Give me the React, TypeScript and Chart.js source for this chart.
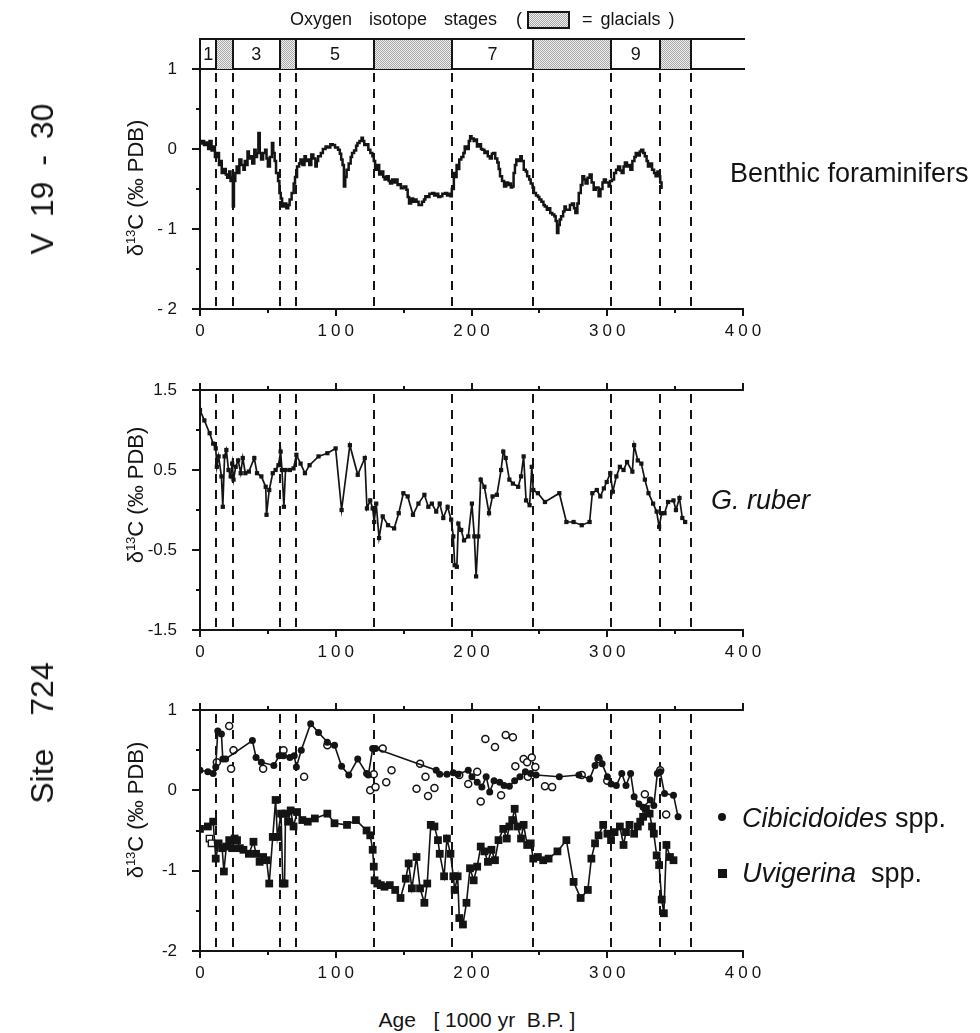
import React, { useEffect, useRef } from "react";
import { Chart, registerables } from "chart.js";

Chart.register(...registerables);

// ---------------- data ----------------
// Oxygen isotope stage boundaries (ka)
const stageBounds = [12, 24, 59, 71, 128, 186, 245, 303, 339, 362];
const stageEdges = [0, 12, 24, 59, 71, 128, 186, 245, 303, 339, 362, 400];
const stageNames = ["1", "", "3", "", "5", "", "7", "", "9", "", ""];
const stageGlacial = [false, true, false, true, false, true, false, true, false, true, false];

const xTickLabels = ["0", "100", "200", "300", "400"];
const yLabelsV1930 = { "1": "1", "0": "0", "-1": "- 1", "-2": "- 2" };
const yLabelsRuber = { "1.5": "1.5", "0.5": "0.5", "-0.5": "-0.5", "-1.5": "-1.5" };
const yLabelsSite = { "1": "1", "0": "0", "-1": "-1", "-2": "-2" };

// V19-30 benthic foraminifers
const benthicAge = [0, 1.5, 3, 4.5, 6, 7, 8.5, 10, 11, 12.5, 14, 15, 16, 17.5, 19, 20, 21.5, 22.5, 23.6, 24.2, 25, 26, 27, 28, 29, 30.5, 32, 33, 34, 35, 36, 37, 38.5, 40, 41, 42, 43, 44, 45, 46.5, 48, 49, 50, 51.5, 53, 54, 55, 56, 57.5, 58.5, 59.5, 60.5, 62, 63.6, 65, 66, 67.5, 69, 70, 71.5, 73, 74, 75.5, 77, 78, 79, 80.5, 82, 83.5, 85, 86, 87, 89, 90.5, 92.5, 94, 96, 97.8, 99.5, 101.7, 103, 104, 105, 106, 107, 108, 109.5, 111, 112, 113.5, 115, 116, 117.5, 119, 120, 121, 122.5, 124, 125.5, 127, 128, 129, 130.5, 132, 133.5, 135, 136, 137.5, 139, 140, 141.5, 143, 144, 145.5, 147, 148, 150, 152, 153, 154, 155.5, 157, 158, 159.5, 161, 162, 163.5, 165, 166, 167.5, 169, 171, 172.5, 174, 175.5, 177, 178.5, 180.5, 182, 183.5, 184.5, 185.5, 187, 188, 189, 190, 191, 192.5, 194, 195, 196.5, 198, 199, 200, 201.6, 203, 204, 205.5, 207, 208, 209.5, 211, 212, 213.5, 215, 216, 217.5, 219, 220, 221, 222.5, 224, 225.5, 227, 228, 229, 230, 231, 232, 233, 234.5, 236, 237, 238.5, 240, 241, 242.5, 243.6, 245, 246, 247.5, 249, 250, 251.5, 253, 254, 255.5, 257, 258, 259.5, 261, 262, 263, 264, 265, 266, 267.5, 268.5, 269.5, 271, 272.5, 274, 275.5, 276.5, 278, 279, 280.5, 281.7, 283, 284, 285.5, 287, 288.5, 290, 291.5, 293.6, 295, 296.5, 297.5, 299, 301, 302, 303.5, 305, 306.5, 308, 309.5, 310.6, 312, 313, 314.5, 316, 317, 318.5, 320, 321, 322.5, 324, 325, 326.5, 327.7, 329, 330, 331.5, 333, 334.5, 335.6, 337, 338, 339, 340];
const benthicD13C = [0.07, 0.1, 0.05, 0.08, 0.0, 0.1, -0.02, 0.03, -0.1, -0.05, -0.2, -0.15, -0.3, -0.25, -0.32, -0.36, -0.28, -0.4, -0.35, -0.72, -0.4, -0.3, -0.22, -0.3, -0.13, -0.2, -0.26, -0.15, -0.2, -0.03, -0.12, -0.09, -0.18, -0.01, -0.1, -0.05, 0.2, -0.05, -0.13, -0.05, -0.01, -0.12, -0.22, -0.1, 0.075, -0.05, -0.15, -0.3, -0.4, -0.55, -0.62, -0.72, -0.68, -0.74, -0.7, -0.63, -0.55, -0.43, -0.35, -0.22, -0.18, -0.13, -0.2, -0.09, -0.15, -0.13, -0.2, -0.07, -0.12, -0.22, -0.15, -0.09, -0.05, 0.0, 0.03, 0.02, 0.06, 0.05, 0.02, -0.01, -0.06, -0.13, -0.2, -0.47, -0.35, -0.26, -0.18, -0.1, -0.05, -0.02, 0.04, 0.075, 0.1, 0.14, 0.1, 0.05, 0.06, -0.01, -0.05, -0.09, -0.15, -0.26, -0.2, -0.32, -0.28, -0.35, -0.38, -0.34, -0.4, -0.43, -0.38, -0.42, -0.38, -0.45, -0.44, -0.49, -0.47, -0.51, -0.6, -0.68, -0.62, -0.66, -0.63, -0.66, -0.7, -0.7, -0.66, -0.63, -0.59, -0.6, -0.56, -0.55, -0.58, -0.56, -0.6, -0.59, -0.56, -0.55, -0.58, -0.56, -0.59, -0.5, -0.3, -0.35, -0.2, -0.25, -0.13, -0.1, -0.05, 0.03, 0.0, 0.1, 0.16, 0.13, 0.1, 0.12, 0.03, 0.06, 0.0, -0.01, -0.05, -0.03, -0.09, -0.12, -0.06, -0.05, -0.12, -0.17, -0.25, -0.34, -0.4, -0.47, -0.42, -0.45, -0.43, -0.48, -0.47, -0.3, -0.2, -0.13, -0.15, -0.09, -0.15, -0.26, -0.28, -0.34, -0.38, -0.43, -0.48, -0.55, -0.58, -0.6, -0.63, -0.66, -0.7, -0.72, -0.76, -0.74, -0.8, -0.82, -0.84, -0.9, -1.05, -0.95, -0.88, -0.84, -0.78, -0.72, -0.76, -0.76, -0.7, -0.68, -0.74, -0.8, -0.68, -0.55, -0.45, -0.34, -0.38, -0.43, -0.36, -0.32, -0.42, -0.51, -0.48, -0.59, -0.5, -0.42, -0.38, -0.42, -0.47, -0.4, -0.38, -0.3, -0.26, -0.22, -0.27, -0.3, -0.22, -0.17, -0.22, -0.2, -0.26, -0.15, -0.1, -0.05, -0.08, -0.03, -0.01, -0.05, -0.09, -0.15, -0.22, -0.18, -0.26, -0.3, -0.34, -0.28, -0.34, -0.42, -0.5];

// Site 724 G. ruber
const ruberAge = [0, 3.2, 7.1, 9.7, 11.6, 12.4, 13.7, 15.8, 16.8, 18.1, 19.4, 21, 22.6, 23.7, 24.7, 26.3, 28.1, 30, 31.5, 33.4, 36, 40, 42, 45.2, 48.4, 49, 51, 53.6, 55.7, 57.8, 59.4, 60.4, 61.8, 63, 66.2, 68.9, 71, 74.1, 77.3, 80.7, 87.3, 93.8, 99.9, 104.3, 110.4, 116.2, 121.4, 123, 125.4, 127.2, 128.3, 129.8, 131.9, 134.6, 138.5, 143, 146.4, 149.8, 153, 156.9, 160.9, 165.3, 168.2, 170.8, 174, 176.6, 179.2, 182.4, 185, 186.6, 187.6, 189.2, 190.3, 192.4, 194.5, 197.6, 200.3, 202.1, 203.4, 205, 206.8, 209.5, 212.9, 215.5, 218.7, 221.8, 223.4, 225.2, 227.9, 230.5, 234.4, 236.5, 238.4, 240.2, 242.8, 244.4, 245.5, 248.9, 254.1, 264.7, 269.9, 275.2, 281.2, 287, 289, 292.3, 294.9, 297.5, 299.6, 302.2, 304.1, 306.7, 309.3, 312, 314.6, 318.5, 319.8, 322.5, 325.1, 327.7, 330.4, 333.8, 336.4, 338.2, 340.1, 342.2, 344.8, 348.8, 350.6, 353.2, 355.3, 357.4];
const ruberD13C = [1.25, 1.12, 0.96, 0.83, 0.77, 0.54, 0.67, 0.42, 0.04, 0.67, 0.75, 0.5, 0.42, 0.58, 0.38, 0.54, 0.62, 0.46, 0.65, 0.46, 0.48, 0.65, 0.46, 0.42, 0.29, -0.06, 0.25, 0.46, 0.5, 0.56, 0.73, 0.5, 0.04, 0.5, 0.5, 0.52, 0.69, 0.58, 0.46, 0.56, 0.67, 0.71, 0.77, 0.0, 0.81, 0.44, 0.65, 0.02, 0.12, 0.02, -0.15, 0.08, -0.35, -0.08, -0.19, -0.23, -0.04, 0.21, 0.17, -0.06, 0.08, 0.19, 0.04, 0.08, -0.02, 0.08, -0.1, 0.04, -0.12, -0.33, -0.69, -0.71, -0.17, -0.25, -0.38, -0.33, 0.08, -0.33, -0.83, -0.33, 0.38, 0.29, -0.04, 0.17, 0.19, 0.5, 0.73, 0.65, 0.38, 0.33, 0.29, 0.42, 0.67, 0.12, 0.06, 0.54, 0.25, 0.21, 0.1, 0.21, -0.15, -0.15, -0.19, -0.15, 0.21, 0.25, 0.17, 0.27, 0.35, 0.46, 0.23, 0.42, 0.54, 0.5, 0.6, 0.48, 0.81, 0.62, 0.58, 0.38, 0.21, 0.08, -0.02, -0.21, -0.04, -0.04, 0.1, 0.12, 0.0, 0.15, -0.1, -0.15];

// Site 724 Cibicidoides spp. (connected, filled circles)
const cibAge = [0, 5.8, 9.7, 11.6, 13.1, 15.8, 16.8, 18.9, 38.6, 41.3, 45.2, 54.4, 58.3, 61.5, 66.2, 69.4, 71, 74.6, 81.5, 87.3, 93.8, 99.1, 104.3, 109.6, 116.2, 122.7, 124, 127.2, 129.3, 174, 176.6, 181.9, 186.6, 190, 197.6, 200.3, 204.2, 207.6, 210.8, 213.4, 216.6, 220.8, 224, 227.9, 231.8, 235.7, 239.7, 243.6, 247.6, 264.7, 279.1, 287, 291, 293.6, 296.2, 300.1, 302.8, 306.7, 310.7, 313.8, 317.2, 319.8, 323.3, 326.4, 331.7, 334.3, 336.9, 339, 342.2, 348.8, 352.2];
const cibD13C = [0.25, 0.23, 0.21, 0.29, 0.74, 0.7, 0.39, 0.39, 0.62, 0.41, 0.35, 0.31, 0.43, 0.43, 0.41, 0.43, 0.29, 0.5, 0.83, 0.72, 0.6, 0.56, 0.3, 0.19, 0.39, 0.21, 0.19, 0.52, 0.52, 0.25, 0.2, 0.2, 0.22, 0.2, 0.25, 0.17, 0.1, 0.04, 0.17, -0.02, 0.12, 0.1, 0.06, 0.05, 0.12, 0.17, 0.23, 0.21, 0.19, 0.17, 0.19, 0.14, 0.31, 0.41, 0.33, 0.17, 0.08, 0.06, 0.21, 0.06, 0.21, -0.08, -0.17, -0.21, -0.12, -0.19, 0.21, 0.23, -0.04, -0.06, -0.33];

// Site 724 unconnected open circles
const openAge = [12.4, 21.5, 22.9, 24.7, 46.5, 61.5, 76.7, 93.8, 125.4, 128, 129.3, 134.6, 137.2, 141.1, 159.5, 162.1, 166.1, 168, 172.7, 191, 197.6, 204.2, 206.8, 210.2, 217.3, 221.8, 225.2, 230.5, 232.3, 238.4, 241, 244.4, 247, 241.5, 254.1, 259.4, 281.2, 293.6, 300, 327.7, 339, 343.4];
const openD13C = [0.35, 0.8, 0.27, 0.5, 0.27, 0.5, 0.17, 0.56, 0.0, 0.2, 0.04, 0.52, 0.1, 0.25, 0.02, 0.33, 0.17, -0.07, 0.03, 0.19, 0.08, 0.23, -0.14, 0.64, 0.54, -0.06, 0.69, 0.66, 0.3, 0.39, 0.35, 0.41, 0.29, 0.17, 0.05, 0.04, 0.19, 0.39, 0.12, -0.05, 0.25, -0.3];

// Site 724 Uvigerina spp. (connected, filled squares)
const uviAge = [0, 5.8, 9.7, 11.6, 13.7, 16.3, 17.6, 19.4, 21.5, 23.7, 25.5, 27.3, 29.4, 32, 36, 39.4, 41.3, 43.9, 46.5, 49.1, 51, 53.6, 55.7, 57, 59.7, 61, 62.3, 63, 64.9, 66.8, 68.9, 71.5, 75.4, 79.4, 84.6, 93.8, 99.1, 108.3, 114.9, 122.7, 125.4, 127.2, 128, 128.6, 130.6, 133.2, 135.9, 139.8, 143.8, 147.7, 151.6, 153.7, 156.1, 159.5, 162.1, 165.3, 167.4, 170, 172.7, 175.3, 176.6, 179.8, 181.9, 184.5, 186.6, 187.6, 189.8, 191, 193.7, 196.3, 198.9, 201.6, 204.2, 206.8, 209.5, 212.1, 214.7, 217.3, 219.9, 223.4, 226, 227.9, 230, 231.8, 233.9, 236.5, 238.4, 241, 243.6, 245.5, 248.9, 252.8, 256.8, 263.3, 269.9, 275.2, 280.4, 285.7, 288.3, 291, 293.6, 297, 300.1, 302.8, 305.4, 309.3, 312, 313.8, 316.4, 319.8, 322.5, 324.3, 326.4, 328.5, 331.2, 333, 334.3, 336.4, 338.2, 340.1, 341.7, 343.6, 346.2, 348.8];
const uviD13C = [-0.48, -0.45, -0.39, -0.85, -0.66, -0.72, -1.01, -0.7, -0.62, -0.72, -0.6, -0.62, -0.72, -0.74, -0.79, -0.64, -0.79, -0.89, -0.83, -0.87, -1.16, -0.58, -0.12, -0.58, -0.29, -1.16, -1.16, -0.29, -0.39, -0.25, -0.45, -0.27, -0.37, -0.39, -0.35, -0.29, -0.41, -0.43, -0.37, -0.5, -0.56, -0.74, -0.95, -1.12, -1.16, -1.18, -1.2, -1.18, -1.24, -1.34, -1.1, -0.91, -1.22, -0.83, -1.22, -1.4, -1.16, -0.43, -0.45, -0.62, -0.79, -1.07, -0.6, -0.79, -1.07, -1.24, -1.07, -1.59, -1.67, -1.4, -0.97, -1.12, -0.95, -0.7, -0.76, -0.89, -0.74, -0.87, -0.62, -0.48, -0.6, -0.45, -0.37, -0.23, -0.45, -0.6, -0.43, -0.68, -0.66, -0.85, -0.83, -0.87, -0.85, -0.76, -0.62, -1.14, -1.34, -1.24, -0.85, -0.66, -0.56, -0.43, -0.54, -0.62, -0.52, -0.45, -0.68, -0.52, -0.43, -0.54, -0.45, -0.39, -0.33, -0.23, -0.29, -0.45, -0.54, -0.81, -0.93, -1.36, -1.53, -0.68, -0.83, -0.87];

// Site 724 open squares
const openSqAge = [7, 8.5];
const openSqD13C = [-0.6, -0.66];

// ---------------- layout / style ----------------
const W = 980;
const H = 1033;
const PLOT_LEFT = 200;
const PLOT_RIGHT = 743;
const X_AXIS_H = 32;
const INK = "#141414";
const FONT = '"Liberation Sans", Arial, Helvetica, sans-serif';

const pts = (xs: number[], ys: number[]) => xs.map((x, i) => ({ x, y: ys[i] }));

let glacialPattern: CanvasPattern | null = null;
function getPattern(ctx: CanvasRenderingContext2D) {
  if (glacialPattern) return glacialPattern;
  const c = document.createElement("canvas");
  c.width = 2;
  c.height = 2;
  const g = c.getContext("2d")!;
  g.fillStyle = "#eeeeee";
  g.fillRect(0, 0, 2, 2);
  g.fillStyle = "#a8a8a8";
  g.fillRect(0, 0, 1, 1);
  g.fillRect(1, 1, 1, 1);
  glacialPattern = ctx.createPattern(c, "repeat");
  return glacialPattern;
}

const decoPlugin = {
  id: "deco",
  beforeDatasetsDraw(chart: any) {
    const { ctx, chartArea: a, scales } = chart;
    const x = scales.x;
    ctx.save();
    ctx.strokeStyle = INK;
    ctx.lineWidth = 2;
    ctx.setLineDash([9, 7]);
    for (const b of stageBounds) {
      const px = Math.round(x.getPixelForValue(b));
      ctx.beginPath();
      ctx.moveTo(px, a.top + 4);
      ctx.lineTo(px, a.bottom);
      ctx.stroke();
    }
    ctx.restore();
  },
  afterDatasetsDraw(chart: any) {
    // x tick labels (ticks.z = 1) are drawn after this hook: give them the wide tracking of the original
    const ctx = chart.ctx;
    ctx.save();
    (ctx as any).letterSpacing = "4px";
    ctx.translate(2, 0);
  },
  afterDraw(chart: any, _args: any, opts: any) {
    const { ctx, chartArea: a, scales } = chart;
    ctx.restore();
    (ctx as any).letterSpacing = "0px";
    const x = scales.x;
    const y = scales.y;
    ctx.save();
    ctx.strokeStyle = INK;
    ctx.lineWidth = 2;
    ctx.lineCap = "butt";
    const line = (x1: number, y1: number, x2: number, y2: number) => {
      ctx.beginPath();
      ctx.moveTo(x1, y1);
      ctx.lineTo(x2, y2);
      ctx.stroke();
    };
    const L = Math.round(a.left);
    const R = Math.round(a.right);
    const T = Math.round(a.top);
    const B = Math.round(a.bottom);
    // axes
    line(L, T, L, B);
    line(L - 1, B, R + 1, B);
    line(L - 1, T, opts.stageBar ? R + 2 : R + 1, T);
    // x ticks
    for (const t of x.ticks) {
      const px = Math.round(x.getPixelForValue(t.value));
      const major = t.value % 100 === 0;
      const len = major ? 7 : 4;
      line(px, B, px, B + len);
      if (!opts.stageBar) line(px, T, px, T - len);
    }
    // y ticks
    for (const t of y.ticks) {
      const py = Math.round(y.getPixelForValue(t.value));
      const major = t.label !== "";
      line(L, py, L - (major ? 8 : 4), py);
    }
    // stage bar
    if (opts.stageBar) {
      const top = T - 30;
      ctx.fillStyle = getPattern(ctx) as any;
      for (let i = 0; i < stageNames.length; i++) {
        if (!stageGlacial[i]) continue;
        const x1 = x.getPixelForValue(stageEdges[i]);
        const x2 = x.getPixelForValue(stageEdges[i + 1]);
        ctx.fillRect(x1, top, x2 - x1, T - top);
      }
      line(L - 1, top, R + 2, top);
      line(L, top, L, T);
      for (const b of stageBounds) {
        const px = Math.round(x.getPixelForValue(b));
        line(px, top, px, T);
      }
      ctx.fillStyle = INK;
      ctx.font = `18px ${FONT}`;
      ctx.textAlign = "center";
      ctx.textBaseline = "middle";
      for (let i = 0; i < stageNames.length; i++) {
        if (!stageNames[i]) continue;
        const cx = (x.getPixelForValue(stageEdges[i]) + x.getPixelForValue(stageEdges[i + 1])) / 2;
        ctx.fillText(stageNames[i], cx, (top + T) / 2 + 1);
      }
    }
    ctx.restore();
  },
};

type PanelCfg = {
  top: number;
  height: number;
  areaTop: number;
  areaBottom: number;
  yMin: number;
  yMax: number;
  yLabels: Record<string, string>;
  stageBar: boolean;
  datasets: any[];
};

function Panel({ cfg }: { cfg: PanelCfg }) {
  const ref = useRef<HTMLCanvasElement>(null);
  useEffect(() => {
    const chart = new Chart(ref.current!, {
      type: "line",
      data: { datasets: cfg.datasets },
      options: {
        responsive: false,
        animation: false,
        devicePixelRatio: 1,
        events: [],
        layout: {
          padding: {
            left: 0,
            right: W - PLOT_RIGHT,
            top: cfg.areaTop,
            bottom: cfg.height - cfg.areaBottom - X_AXIS_H,
          },
        },
        elements: { line: { tension: 0 } },
        plugins: {
          legend: { display: false },
          tooltip: { enabled: false },
          deco: { stageBar: cfg.stageBar },
        } as any,
        scales: {
          x: {
            type: "linear",
            min: 0,
            max: 400,
            afterFit: (s: any) => {
              s.height = X_AXIS_H;
            },
            grid: { display: false, drawTicks: true, tickLength: 7 },
            border: { display: false },
            ticks: {
              stepSize: 50,
              autoSkip: false,
              maxRotation: 0,
              padding: 5,
              z: 1,
              color: INK,
              font: { family: FONT, size: 17 },
              callback: (v: any) => {
                const s = String(Math.round(Number(v)));
                return xTickLabels.includes(s) ? s : "";
              },
            },
          },
          y: {
            type: "linear",
            min: cfg.yMin,
            max: cfg.yMax,
            afterFit: (s: any) => {
              s.width = PLOT_LEFT;
            },
            grid: { display: false, drawTicks: true, tickLength: 8 },
            border: { display: false },
            ticks: {
              stepSize: 0.5,
              autoSkip: false,
              padding: 15,
              color: INK,
              font: { family: FONT, size: 17 },
              callback: (v: any) => {
                const k = String(Math.round(Number(v) * 10) / 10);
                return cfg.yLabels[k] ?? "";
              },
            },
          },
        },
      } as any,
      plugins: [decoPlugin as any],
    });
    return () => chart.destroy();
  }, []);
  return (
    <canvas
      ref={ref}
      width={W}
      height={cfg.height}
      style={{ position: "absolute", left: 0, top: cfg.top, width: W, height: cfg.height }}
    />
  );
}

const panel1: PanelCfg = {
  top: 0,
  height: 350,
  areaTop: 69,
  areaBottom: 309,
  yMin: -2,
  yMax: 1,
  yLabels: yLabelsV1930,
  stageBar: true,
  datasets: [
    {
      label: "Benthic foraminifers",
      data: pts(benthicAge, benthicD13C),
      borderColor: INK,
      borderWidth: 2.5,
      pointRadius: 0,
      stepped: true,
    },
  ],
};

const panel2: PanelCfg = {
  top: 350,
  height: 320,
  areaTop: 40,
  areaBottom: 280,
  yMin: -1.5,
  yMax: 1.5,
  yLabels: yLabelsRuber,
  stageBar: false,
  datasets: [
    {
      label: "G. ruber",
      data: pts(ruberAge, ruberD13C),
      borderColor: INK,
      borderWidth: 1.7,
      pointStyle: "rect",
      pointRadius: 3,
      pointBackgroundColor: INK,
      pointBorderColor: INK,
      pointBorderWidth: 0,
    },
  ],
};

const panel3: PanelCfg = {
  top: 670,
  height: 330,
  areaTop: 40,
  areaBottom: 281,
  yMin: -2,
  yMax: 1,
  yLabels: yLabelsSite,
  stageBar: false,
  datasets: [
    {
      label: "Uvigerina spp.",
      data: pts(uviAge, uviD13C),
      borderColor: INK,
      borderWidth: 1.6,
      pointStyle: "rect",
      pointRadius: 5.5,
      pointBackgroundColor: INK,
      pointBorderColor: INK,
      pointBorderWidth: 0,
    },
    {
      label: "open squares",
      data: pts(openSqAge, openSqD13C),
      showLine: false,
      pointStyle: "rect",
      pointRadius: 4.5,
      pointBackgroundColor: "#ffffff",
      pointBorderColor: INK,
      pointBorderWidth: 1.4,
    },
    {
      label: "Cibicidoides spp.",
      data: pts(cibAge, cibD13C),
      borderColor: INK,
      borderWidth: 1.6,
      pointStyle: "circle",
      pointRadius: 3.5,
      pointBackgroundColor: INK,
      pointBorderColor: INK,
      pointBorderWidth: 0,
    },
    {
      label: "open circles",
      data: pts(openAge, openD13C),
      showLine: false,
      pointStyle: "circle",
      pointRadius: 3.5,
      pointBackgroundColor: "#ffffff",
      pointBorderColor: INK,
      pointBorderWidth: 1.5,
    },
  ],
};

const txt: React.CSSProperties = {
  position: "absolute",
  fontFamily: FONT,
  color: INK,
  whiteSpace: "pre",
  lineHeight: 1,
};

function YTitle({ cx, cy }: { cx: number; cy: number }) {
  return (
    <div
      style={{
        ...txt,
        left: cx,
        top: cy,
        fontSize: 22,
        transform: "translate(-50%, -50%) rotate(-90deg)",
      }}
    >
      δ<sup style={{ fontSize: 13, verticalAlign: "8px", lineHeight: 0 }}>13</sup>C (‰ PDB)
    </div>
  );
}

function Rot({ cx, cy, size, ws, children }: { cx: number; cy: number; size: number; ws: number; children: any }) {
  return (
    <div
      style={{
        ...txt,
        left: cx,
        top: cy,
        fontSize: size,
        wordSpacing: ws,
        transform: "translate(-50%, -50%) rotate(-90deg)",
      }}
    >
      {children}
    </div>
  );
}

export default function App() {
  return (
    <div style={{ position: "absolute", left: 0, top: 0, width: W, height: H, background: "#ffffff", overflow: "hidden" }}>
      <Panel cfg={panel1} />
      <Panel cfg={panel2} />
      <Panel cfg={panel3} />

      {/* top legend for stages */}
      <div style={{ ...txt, left: 290, top: 19, fontSize: 18, transform: "translateY(-50%)", wordSpacing: 12 }}>
        Oxygen isotope stages
      </div>
      <div style={{ ...txt, left: 516, top: 19, fontSize: 18, transform: "translateY(-50%)" }}>(</div>
      <div
        style={{
          position: "absolute",
          left: 527,
          top: 11,
          width: 43,
          height: 18,
          boxSizing: "border-box",
          border: `2px solid ${INK}`,
          background: "repeating-conic-gradient(#a8a8a8 0 25%, #eeeeee 0 50%) 0 0 / 2px 2px",
        }}
      />
      <div style={{ ...txt, left: 582, top: 19, fontSize: 18, transform: "translateY(-50%)", wordSpacing: 3 }}>= glacials )</div>

      {/* left side titles */}
      <Rot cx={42} cy={179} size={32} ws={7}>V 19 - 30</Rot>
      <Rot cx={42} cy={733} size={32} ws={24}>Site 724</Rot>
      <YTitle cx={136} cy={188} />
      <YTitle cx={136} cy={495} />
      <YTitle cx={136} cy={810} />

      {/* right side labels */}
      <div style={{ ...txt, left: 730, top: 173, fontSize: 27, transform: "translateY(-50%)" }}>Benthic foraminifers</div>
      <div style={{ ...txt, left: 711, top: 500, fontSize: 27, fontStyle: "italic", transform: "translateY(-50%)" }}>G. ruber</div>

      <div style={{ position: "absolute", left: 718, top: 813, width: 8, height: 8, borderRadius: "50%", background: INK }} />
      <div style={{ ...txt, left: 742, top: 818, fontSize: 27, transform: "translateY(-50%)" }}>
        <i>Cibicidoides</i> spp.
      </div>
      <div style={{ position: "absolute", left: 718, top: 869, width: 9, height: 9, background: INK }} />
      <div style={{ ...txt, left: 742, top: 873, fontSize: 27, transform: "translateY(-50%)" }}>
        <i>Uvigerina</i>{"  spp."}
      </div>

      {/* x axis title */}
      <div style={{ ...txt, left: 477, top: 1019, fontSize: 21, transform: "translate(-50%, -50%)" }}>
        {"Age   [ 1000 yr  B.P. ]"}
      </div>
    </div>
  );
}
